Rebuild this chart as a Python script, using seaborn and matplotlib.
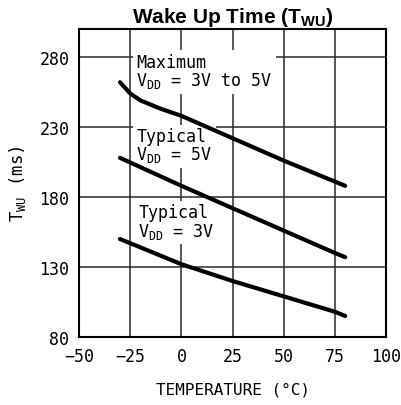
import seaborn as sns
import matplotlib.pyplot as plt
import pandas as pd

# temperatures (deg C) and wake up times (ms)
temp_max = [-30, -25, -20, -10, 0, 25, 50, 75, 80]
twu_max = [262, 254, 249, 243, 238, 222, 206, 191, 188]

temp_5v = [-30, 0, 25, 50, 75, 80]
twu_5v = [208, 188, 172, 156, 140, 137]

temp_3v = [-30, 0, 25, 50, 75, 80]
twu_3v = [150, 132, 120, 109, 98, 95]

x_ticks = [-50, -25, 0, 25, 50, 75, 100]
y_ticks = [80, 130, 180, 230, 280]

sns.set_style('white')
plt.rcParams['font.family'] = ['DejaVu Sans Mono']
plt.rcParams['mathtext.fontset'] = 'custom'
plt.rcParams['mathtext.rm'] = 'DejaVu Sans Mono'
plt.rcParams['mathtext.it'] = 'DejaVu Sans Mono'
plt.rcParams['mathtext.bf'] = 'Liberation Sans:bold'
# seaborn greys out the text, the original is plain black
for key in ['text.color', 'axes.labelcolor', 'xtick.labelcolor', 'ytick.labelcolor']:
    plt.rcParams[key] = 'black'

fig = plt.figure(figsize=(4.01, 4.06), dpi=100)
ax = fig.add_axes([0.197, 0.1675, 0.766, 0.7585])

curves = [(temp_max, twu_max), (temp_5v, twu_5v), (temp_3v, twu_3v)]
for t, v in curves:
    df = pd.DataFrame({'temp': t, 'twu': v})
    sns.lineplot(data=df, x='temp', y='twu', color='black', linewidth=3.0,
                 ax=ax, zorder=3, estimator=None, sort=False)

ax.set_xlim(-50, 100)
ax.set_ylim(80, 300)
ax.set_xticks(x_ticks)
ax.set_yticks(y_ticks)
ax.grid(True, color='#2a2a2a', linewidth=1.1)
ax.tick_params(length=0, labelsize=12)
ax.tick_params(axis='x', pad=7)
ax.tick_params(axis='y', pad=7)
for s in ax.spines.values():
    s.set_linewidth(1.5)
    s.set_color('black')

ax.set_xlabel('TEMPERATURE (°C)', fontsize=11.5, labelpad=12)
ax.set_ylabel(r'T$_{\mathregular{WU}}$ (ms)', fontsize=12.5, labelpad=8)
ax.set_title(r'Wake Up Time (T$_{\mathbf{WU}}$)', fontsize=15, fontweight='bold',
             family='Liberation Sans', pad=5)

# curve labels sit on white boxes that hide the grid but not the curves
box = dict(facecolor='white', edgecolor='none', pad=2.5)
labels = [(-22, 283, 'Maximum\nV$_{\\mathregular{DD}}$ = 3V to 5V'),
          (-22, 230, 'Typical\nV$_{\\mathregular{DD}}$ = 5V'),
          (-21, 175.5, 'Typical\nV$_{\\mathregular{DD}}$ = 3V')]
for x, y, s in labels:
    ax.text(x, y, s, fontsize=12, va='top', ha='left', zorder=2.5,
            linespacing=0.95, bbox=box)

fig.savefig('out.png', dpi=100)
